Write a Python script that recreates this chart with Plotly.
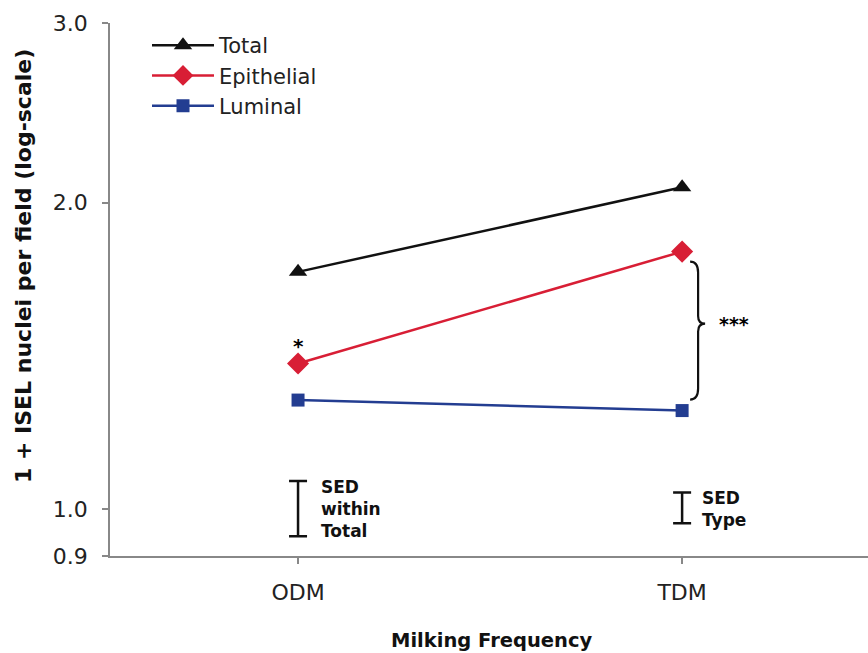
import numpy as np
import plotly.graph_objects as go

# ---- data ----
categories = ["ODM", "TDM"]
total = [1.71, 2.07]
epithelial = [1.39, 1.79]
luminal = [1.28, 1.25]
sed_center = [1.0, 1.0]
sed_upper = [1.066, 1.039]
sed_lower = [0.941, 0.969]
sed_labels = ["SED<br>within<br>Total", "SED<br>Type"]
y_tickvals = [0.9, 1.0, 2.0, 3.0]
y_ticktext = ["0.9", "1.0", "2.0", "3.0"]

# ---- layout constants ----
W, H = 868, 653
ML, MR, MT, MB = 110, 0, 23, 97
PW, PH = W - ML - MR, H - MT - MB
xr = [-0.4896, 1.484]
yr = [np.log10(0.9), np.log10(3.0)]

def px_x(i, dpx=0):
    return (i - xr[0]) / (xr[1] - xr[0]) + dpx / PW

def px_y(v, dpx=0):
    # dpx positive = upward in pixels
    return (np.log10(v) - yr[0]) / (yr[1] - yr[0]) + dpx / PH

BLACK = "#111111"
RED = "#d81e35"
BLUE = "#233d91"
FONT = "DejaVu Sans"
FONT_B = "DejaVu Sans"

fig = go.Figure()
fig.add_trace(go.Scatter(x=categories, y=total, name="Total", mode="lines+markers",
                         line=dict(color=BLACK, width=2.5),
                         marker=dict(symbol="triangle-up", size=16, color=BLACK)))
fig.add_trace(go.Scatter(x=categories, y=epithelial, name="Epithelial", mode="lines+markers",
                         line=dict(color=RED, width=2.5),
                         marker=dict(symbol="diamond", size=17, color=RED)))
fig.add_trace(go.Scatter(x=categories, y=luminal, name="Luminal", mode="lines+markers",
                         line=dict(color=BLUE, width=2.5),
                         marker=dict(symbol="square", size=13, color=BLUE)))

# SED bars
fig.add_trace(go.Scatter(
    x=categories, y=sed_center, mode="markers", showlegend=False, hoverinfo="skip",
    marker=dict(size=1, color="rgba(0,0,0,0)"),
    error_y=dict(type="data", symmetric=False,
                 array=[u - c for u, c in zip(sed_upper, sed_center)],
                 arrayminus=[c - l for l, c in zip(sed_lower, sed_center)],
                 color=BLACK, thickness=2.5, width=9)))

annotations = []
for i, (lab, c) in enumerate(zip(sed_labels, sed_center)):
    annotations.append(dict(x=categories[i], y=np.log10(c), xref="x", yref="y",
                            text=lab, showarrow=False, xanchor="left", yanchor="middle",
                            align="left", xshift=21 if i == 0 else 18,
                            font=dict(family=FONT_B, size=17, color=BLACK, weight="bold")))

# significance marks
annotations.append(dict(x=categories[0], y=np.log10(epithelial[0]), xref="x", yref="y",
                        text="*", showarrow=False, yshift=18,
                        font=dict(family=FONT_B, size=20, color="#000000", weight="bold")))

# brace between Epithelial and Luminal at TDM
bx = px_x(1, 8)
btop = px_y(epithelial[1], -10)
bbot = px_y(luminal[1], 11)
bmid = btop + (bbot - btop) * 0.45
dx = 8 / PW
tip = 7 / PW
r = 11 / PH
path = (f"M{bx},{btop} Q{bx+dx},{btop} {bx+dx},{btop-r} "
        f"L{bx+dx},{bmid+r*0.7} Q{bx+dx},{bmid} {bx+dx+tip},{bmid} "
        f"Q{bx+dx},{bmid} {bx+dx},{bmid-r*0.7} "
        f"L{bx+dx},{bbot+r} Q{bx+dx},{bbot} {bx},{bbot}")
fig.add_shape(type="path", path=path, xref="paper", yref="paper",
              line=dict(color=BLACK, width=2.2))
annotations.append(dict(x=bx + dx + tip + 12 / PW, y=bmid, xref="paper", yref="paper",
                        text="***", showarrow=False, xanchor="left", yanchor="middle",
                        font=dict(family=FONT_B, size=19, color="#000000", weight="bold")))

# axis titles
annotations.append(dict(x=-87 / PW, y=(H - MB - 266) / PH, xref="paper", yref="paper",
                        text="1 + ISEL nuclei per field (log-scale)", textangle=-90,
                        showarrow=False, xanchor="center", yanchor="middle",
                        font=dict(family=FONT_B, size=22, color=BLACK, weight="bold")))
annotations.append(dict(x=(491.5 - ML) / PW, y=(H - MB - 640) / PH, xref="paper", yref="paper",
                        text="Milking Frequency", showarrow=False, xanchor="center", yanchor="middle",
                        font=dict(family=FONT_B, size=19.5, color=BLACK, weight="bold")))

fig.update_layout(
    width=W, height=H, margin=dict(l=ML, r=MR, t=MT, b=MB),
    paper_bgcolor="white", plot_bgcolor="white",
    font=dict(family=FONT, size=22, color="#222222"),
    showlegend=True,
    legend=dict(x=(147 - ML) / PW, y=1.0 - 2 / PH, xanchor="left", yanchor="top",
                bgcolor="rgba(0,0,0,0)", font=dict(family=FONT, size=21, color="#222222"),
                itemwidth=62, tracegroupgap=0),
    annotations=annotations,
    xaxis=dict(type="category", range=xr, showgrid=False, zeroline=False,
               showline=True, linecolor="#888888", linewidth=1.5,
               ticks="outside", ticklen=6, tickcolor="#888888", tickwidth=1.5,
               ticklabelstandoff=10, tickfont=dict(family=FONT, size=22, color="#222222")),
    yaxis=dict(type="log", range=yr, showgrid=False, zeroline=False,
               showline=True, linecolor="#888888", linewidth=1.5,
               ticks="outside", ticklen=6, tickcolor="#888888", tickwidth=1.5,
               tickvals=y_tickvals, ticktext=y_ticktext, ticklabelstandoff=10,
               tickfont=dict(family=FONT, size=22, color="#222222")),
)

fig.write_html("out.html")
